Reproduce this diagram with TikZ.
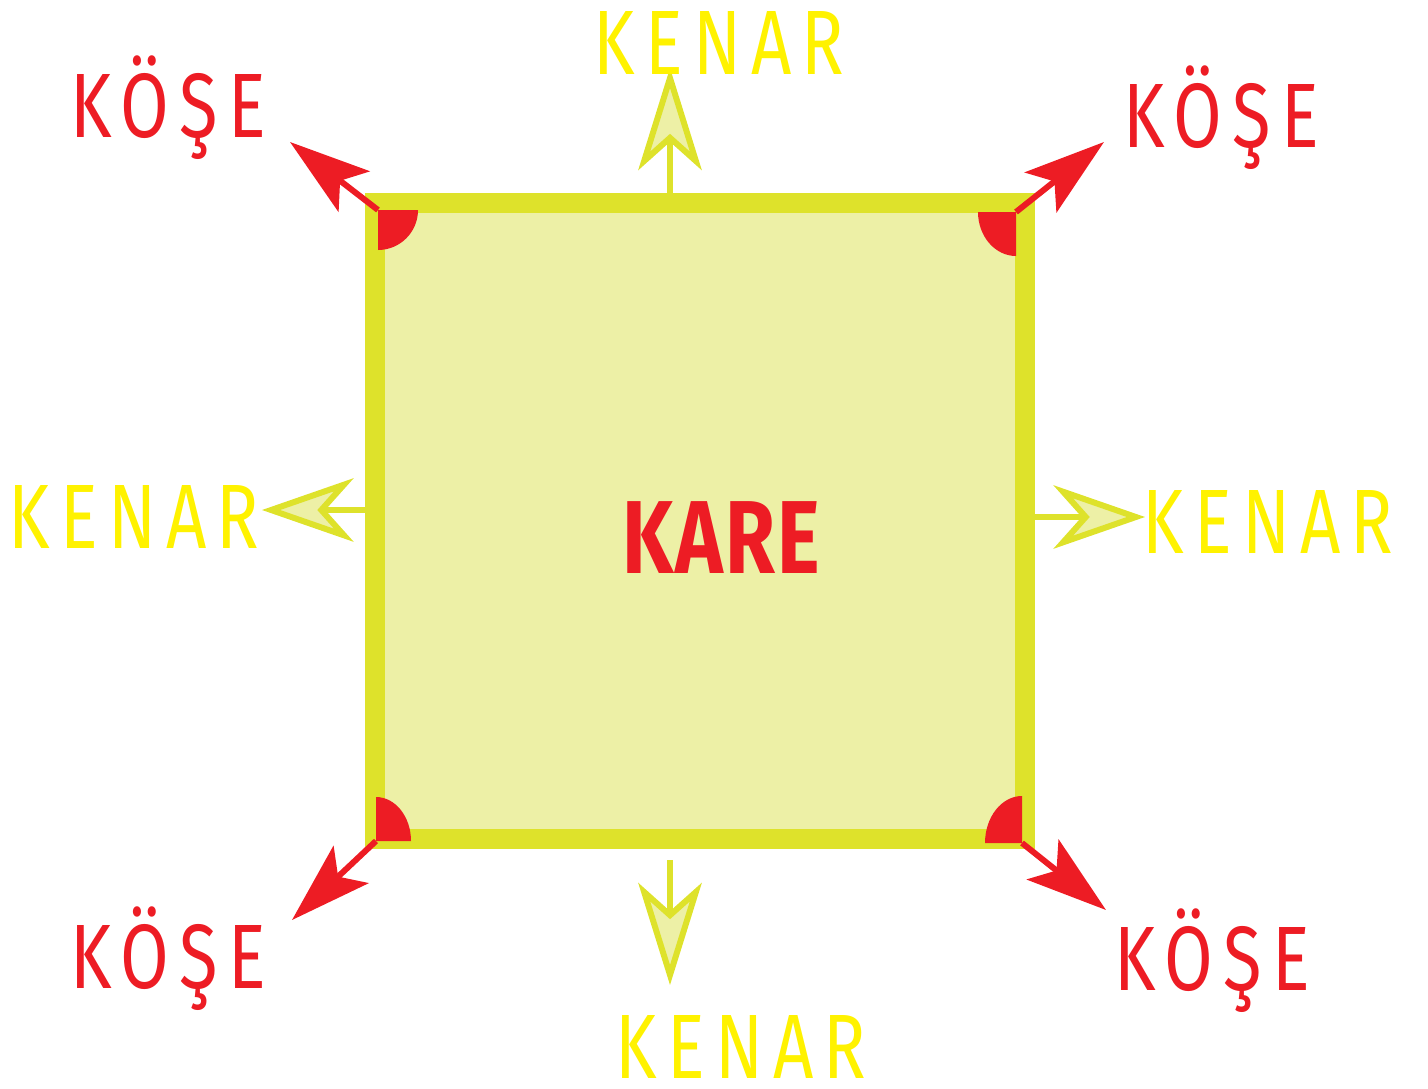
\documentclass[tikz,border=0pt]{standalone}
\usepackage{fontspec}
\setmainfont{Fira Sans}
\newfontfamily\etiket[FakeStretch=0.77,LetterSpace=11]{Fira Sans}
\newfontfamily\kalin[FakeStretch=0.78,LetterSpace=2]{Fira Sans}
\usetikzlibrary{arrows.meta}

\definecolor{kirmizi}{RGB}{237,28,36}
\definecolor{kenarrenk}{RGB}{222,226,43}
\definecolor{icrenk}{RGB}{237,240,166}
\definecolor{sari}{RGB}{255,242,0}

\begin{document}
\begin{tikzpicture}[x=0.01cm, y=-0.01cm,
  kutu/.style={draw=kenarrenk, fill=icrenk, line width=5.7pt,
    minimum width=6.5cm, minimum height=6.36cm, outer sep=0pt, inner sep=0pt},
  koseok/.style={draw=kirmizi, line width=1.7pt,
    -{Stealth[length=23pt, width=14.5pt, inset=5pt, fill=kirmizi]}},
  kenarok/.style={draw=kenarrenk, line width=1.7pt,
    -{Stealth[length=#1, width=18pt, inset=8pt, fill=icrenk]}},
  kenarok/.default=26pt,
  koseyazi/.style={text=kirmizi, anchor=base, inner sep=0pt, font=\etiket\fontsize{26}{30}\selectfont},
  kenaryazi/.style={text=sari, anchor=base, inner sep=0pt, font=\etiket\fontsize{26}{30}\selectfont}]
  \useasboundingbox (0,0) rectangle (1428,1088);

  % kare
  \node[kutu] (kare) at (700,521) {};
  \node[text=kirmizi, anchor=base, inner sep=0pt, font=\kalin\bfseries\fontsize{29.5}{34}\selectfont]
    (baslik) at (721,573) {KARE};

  % koseler
  \coordinate (kose1) at (378,210);
  \coordinate (kose2) at (1016,212);
  \coordinate (kose3) at (376,841);
  \coordinate (kose4) at (1022,843);
  \coordinate (uc1) at (290,142);
  \coordinate (uc2) at (1104,142);
  \coordinate (uc3) at (292,920);
  \coordinate (uc4) at (1106,910);
  \draw[koseok] (kose1) -- (uc1);
  \draw[koseok] (kose2) -- (uc2);
  \draw[koseok] (kose3) -- (uc3);
  \draw[koseok] (kose4) -- (uc4);
  \fill[kirmizi] (kose1) -- ++(40,0) arc[start angle=0, end angle=90, x radius=40, y radius=40] -- cycle;
  \fill[kirmizi] (kose2) -- ++(0,44) arc[start angle=90, end angle=180, x radius=38, y radius=44] -- cycle;
  \fill[kirmizi] (kose3) -- ++(0,-44) arc[start angle=270, end angle=360, x radius=35, y radius=44] -- cycle;
  \fill[kirmizi] (kose4) -- ++(-37,0) arc[start angle=180, end angle=270, x radius=37, y radius=47] -- cycle;

  % kenarlar
  \coordinate (kenar1) at (670,193);
  \coordinate (kenar2) at (365,510);
  \coordinate (kenar3) at (1035,517);
  \coordinate (kenar4) at (670,860);
  \coordinate (ok1) at (670,68);
  \coordinate (ok2) at (262,510);
  \coordinate (ok3) at (1145,517);
  \coordinate (ok4) at (670,985);
  \draw[kenarok=29pt] (kenar1) -- (ok1);
  \draw[kenarok] (kenar2) -- (ok2);
  \draw[kenarok] (kenar3) -- (ok3);
  \draw[kenarok=29pt] (kenar4) -- (ok4);

  % yazilar
  \node[koseyazi] (yazi1) at (168,137) {KÖŞE};
  \node[koseyazi] (yazi2) at (1221,147) {KÖŞE};
  \node[koseyazi] (yazi3) at (168,988) {KÖŞE};
  \node[koseyazi] (yazi4) at (1212,990) {KÖŞE};
  \node[kenaryazi] (yazi5) at (719,75) {KENAR};
  \node[kenaryazi] (yazi6) at (134,548) {KENAR};
  \node[kenaryazi] (yazi7) at (1268,553) {KENAR};
  \node[kenaryazi] (yazi8) at (741,1078) {KENAR};
\end{tikzpicture}
\end{document}
